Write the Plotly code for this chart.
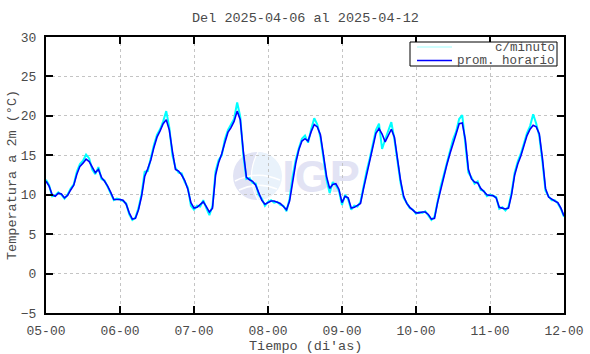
import base64
import plotly.graph_objects as go
import pandas as pd

# Hourly timestamps (categories on the time axis)
horas = pd.date_range("2025-04-05 00:00", "2025-04-12 00:00", freq="h")

# Hourly average temperature (prom. horario), one list per day
dia05 = [11.7, 11.1, 10.0, 9.8, 10.2, 10.1, 9.6, 9.9, 10.6, 11.2, 12.6, 13.6,
         14.0, 14.5, 14.2, 13.5, 12.8, 13.2, 12.2, 11.7, 11.1, 10.3, 9.4, 9.4]
dia06 = [9.4, 9.3, 8.8, 7.7, 6.9, 7.0, 8.1, 9.8, 12.3, 13.3, 14.4, 16.0,
         17.3, 18.1, 19.0, 19.5, 18.2, 15.5, 13.2, 13.0, 12.5, 11.8, 10.7, 9.0]
dia07 = [8.3, 8.4, 8.7, 9.1, 8.5, 7.8, 8.3, 12.5, 14.1, 15.2, 16.6, 17.9,
         18.5, 19.3, 20.6, 19.5, 15.5, 12.2, 11.9, 11.7, 11.2, 10.2, 9.3, 8.8]
dia08 = [9.0, 9.2, 9.2, 9.0, 8.9, 8.5, 8.1, 9.2, 11.9, 14.0, 15.7, 16.8,
         17.1, 16.8, 18.0, 18.9, 18.6, 17.6, 15.0, 12.3, 10.8, 11.3, 11.4, 10.7]
dia09 = [9.0, 9.8, 9.6, 8.3, 8.4, 8.6, 8.9, 10.8, 12.6, 14.3, 16.1, 17.8,
         18.4, 17.7, 16.7, 17.6, 18.3, 17.3, 14.6, 11.8, 9.8, 8.9, 8.4, 8.0]
dia10 = [7.7, 7.7, 7.8, 7.8, 7.5, 6.9, 7.0, 9.0, 10.7, 12.2, 13.8, 15.2,
         16.6, 17.7, 19.0, 19.1, 17.0, 13.2, 12.0, 11.6, 11.5, 10.8, 10.4, 10.0]
dia11 = [9.9, 9.9, 9.6, 8.4, 8.3, 8.2, 8.3, 10.0, 12.5, 13.9, 14.9, 16.2,
         17.5, 18.3, 18.8, 18.6, 17.7, 14.6, 10.8, 9.7, 9.4, 9.2, 9.0, 8.3]
final = [7.3]
prom_horario = dia05 + dia06 + dia07 + dia08 + dia09 + dia10 + dia11 + final

# Per-minute readings (c/minuto), sampled at the hours, including visible spikes
min05 = [11.9, 11.2, 9.8, 9.9, 10.3, 10.0, 9.5, 10.0, 10.8, 11.3, 12.9, 13.9,
         14.3, 15.1, 14.6, 13.2, 12.6, 13.5, 12.0, 11.8, 11.0, 10.2, 9.3, 9.5]
min06 = [9.4, 9.2, 8.9, 7.5, 6.8, 7.1, 8.3, 10.1, 12.9, 13.0, 14.8, 16.3,
         17.6, 18.3, 19.3, 20.6, 18.5, 15.0, 13.4, 12.8, 12.7, 11.6, 10.9, 8.6]
min07 = [8.1, 8.6, 8.5, 9.3, 8.3, 7.4, 8.6, 13.0, 14.4, 15.0, 17.0, 18.2,
         18.9, 19.6, 21.7, 19.9, 15.0, 12.0, 12.1, 11.5, 11.4, 10.0, 9.5, 8.6]
min08 = [9.1, 9.3, 9.0, 9.1, 8.7, 8.6, 7.9, 9.5, 12.3, 14.4, 15.9, 17.1,
         17.5, 16.6, 18.3, 19.7, 18.9, 17.3, 14.6, 11.9, 10.2, 11.6, 11.2, 10.5]
min09 = [8.7, 10.0, 9.4, 8.1, 8.6, 8.5, 9.1, 11.1, 13.0, 14.6, 16.4, 18.2,
         19.0, 15.8, 17.0, 18.1, 19.2, 17.0, 14.2, 11.5, 9.6, 9.0, 8.3, 8.1]
min10 = [7.6, 7.8, 7.7, 7.9, 7.4, 6.8, 7.2, 9.3, 11.0, 12.5, 14.1, 15.5,
         17.0, 18.0, 19.6, 20.1, 16.6, 12.8, 12.2, 11.4, 11.7, 10.6, 10.5, 9.8]
min11 = [10.0, 9.8, 9.7, 8.2, 8.4, 8.0, 8.5, 10.3, 12.8, 14.2, 15.2, 16.5,
         17.8, 18.7, 20.2, 19.0, 17.4, 14.2, 10.5, 9.8, 9.3, 9.3, 8.9, 8.2]
min_final = [7.2]
c_minuto = min05 + min06 + min07 + min08 + min09 + min10 + min11 + min_final

# Text
titulo = "Del 2025-04-06 al 2025-04-12"
titulo_x = "Tiempo (di'as)"
titulo_y = "Temperatura a 2m (°C)"
leyenda = ["c/minuto", "prom. horario"]

FONT = "Liberation Mono, Courier New, monospace"
TXT = "#4a4a4a"

fig = go.Figure()
fig.add_trace(go.Scatter(x=horas, y=c_minuto, mode="lines", name=leyenda[0],
                         line=dict(color="#00ffff", width=2.0), showlegend=False,
                         hoverinfo="skip"))
fig.add_trace(go.Scatter(x=horas, y=prom_horario, mode="lines", name=leyenda[1],
                         line=dict(color="#0000ff", width=1.6), showlegend=False))

L, R, T, B = 46, 26, 37, 41
W, H = 590, 354
PW, PH = W - L - R, H - T - B


def px(x):
    return (x - L) / PW


def py(y):
    return (H - B - y) / PH


# Watermark logo as an SVG image, placed below the data
wm_w, wm_h = 130, 52
svg = f'''<svg xmlns="http://www.w3.org/2000/svg" width="{wm_w}" height="{wm_h}" viewBox="0 0 {wm_w} {wm_h}">
<circle cx="26" cy="26" r="24" fill="#e1e3f4"/>
<path d="M 27 2 Q 14 26 27 50 A 24 24 0 0 0 27 2 Z" fill="#e9f2fb"/>
<path d="M 4 31 Q 26 20 49 30" stroke="white" stroke-width="1.6" fill="none"/>
<path d="M 8 40 Q 27 31 46 39" stroke="white" stroke-width="1.6" fill="none"/>
<path d="M 27 2 Q 14 26 27 50" stroke="white" stroke-width="1.2" fill="none"/>
<text x="90" y="42" text-anchor="middle" font-family="Liberation Sans, Arial, sans-serif"
 font-weight="bold" font-size="45" fill="#e2e3f4">IGP</text>
</svg>'''
wm_src = "data:image/svg+xml;base64," + base64.b64encode(svg.encode()).decode()

images = [dict(source=wm_src, xref="paper", yref="paper",
               x=px(231), y=py(150), sizex=wm_w / PW, sizey=wm_h / PH,
               xanchor="left", yanchor="top", sizing="stretch", layer="below")]

shapes = []
# Legend box and samples
shapes.append(dict(type="rect", xref="paper", yref="paper",
                   x0=px(410), x1=px(557), y0=py(66), y1=py(42),
                   fillcolor="white", line=dict(color="black", width=1)))
shapes.append(dict(type="line", xref="paper", yref="paper",
                   x0=px(417), x1=px(452), y0=py(47), y1=py(47),
                   line=dict(color="#9ffcfc", width=1)))
shapes.append(dict(type="line", xref="paper", yref="paper",
                   x0=px(417), x1=px(452), y0=py(60.5), y1=py(60.5),
                   line=dict(color="#0000ff", width=1.5)))

annotations = [
    dict(text=leyenda[0], xref="paper", yref="paper", x=px(557), y=py(48),
         showarrow=False, xanchor="right", yanchor="middle",
         font=dict(family=FONT, size=12.5, color=TXT)),
    dict(text=leyenda[1], xref="paper", yref="paper", x=px(557), y=py(61.5),
         showarrow=False, xanchor="right", yanchor="middle",
         font=dict(family=FONT, size=12.5, color=TXT)),
    dict(text=titulo, xref="paper", yref="paper", x=px(305), y=py(19),
         showarrow=False, xanchor="center", yanchor="middle",
         font=dict(family=FONT, size=13.5, color=TXT)),
    dict(text=titulo_x, xref="paper", yref="paper", x=px(305), y=py(346),
         showarrow=False, xanchor="center", yanchor="middle",
         font=dict(family=FONT, size=13.5, color=TXT)),
    dict(text=titulo_y, xref="paper", yref="paper", x=px(12), y=py(175),
         showarrow=False, xanchor="center", yanchor="middle", textangle=-90,
         font=dict(family=FONT, size=13.5, color=TXT)),
]

axis_common = dict(
    showline=True, linecolor="black", linewidth=2, mirror="allticks",
    ticks="inside", ticklen=7, tickwidth=1.5, tickcolor="black",
    showgrid=True, gridcolor="#c4c4c4", griddash="dot", gridwidth=1,
    zeroline=False, automargin=False,
    tickfont=dict(family=FONT, size=13, color=TXT),
)

fig.update_layout(
    width=W, height=H, autosize=False,
    margin=dict(l=L, r=R, t=T, b=B, pad=0, autoexpand=False),
    paper_bgcolor="white", plot_bgcolor="white",
    showlegend=False,
    shapes=shapes, annotations=annotations, images=images,
    xaxis=dict(type="date", range=["2025-04-05 00:00", "2025-04-12 00:00"],
               dtick=86400000, tick0="2025-04-05", tickformat="%d-%H",
               ticklabelstandoff=4, **axis_common),
    yaxis=dict(range=[-5, 30], dtick=5, tick0=0, ticklabelstandoff=5,
               **axis_common),
)

fig.write_html("out.html",
               config={"displayModeBar": False},
               post_script="document.body.style.margin='0px';document.body.style.padding='0px';")
